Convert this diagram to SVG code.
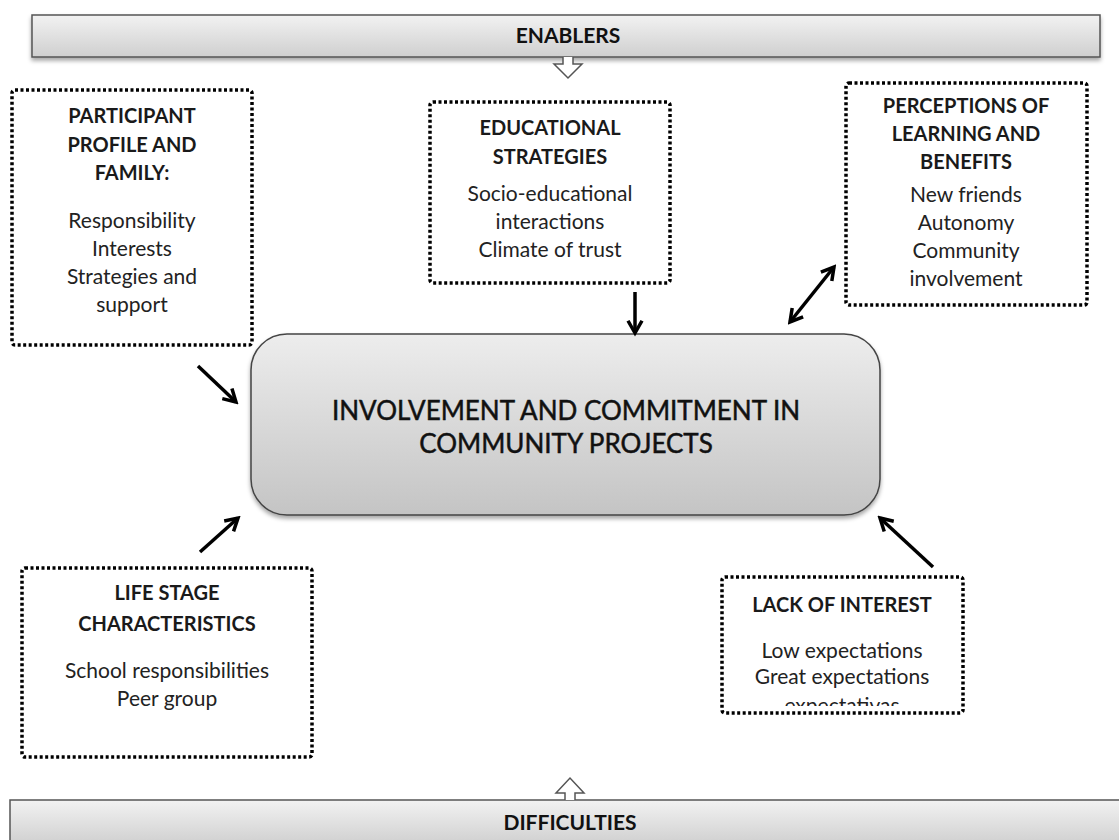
<svg xmlns="http://www.w3.org/2000/svg" width="1119" height="840" viewBox="0 0 1119 840">
<defs>
<linearGradient id="gb" x1="0" y1="0" x2="0" y2="1"><stop offset="0" stop-color="#f2f2f2"/><stop offset="1" stop-color="#cfcfcf"/></linearGradient>
<linearGradient id="gc" x1="0" y1="0" x2="0" y2="1"><stop offset="0" stop-color="#ededed"/><stop offset="1" stop-color="#c4c4c4"/></linearGradient>
<filter id="sh" x="-5%" y="-5%" width="110%" height="130%"><feDropShadow dx="0" dy="3" stdDeviation="2" flood-color="#000" flood-opacity="0.35"/></filter>
<marker id="ah" viewBox="0 0 10 10" refX="8" refY="5" markerWidth="5" markerHeight="5" orient="auto-start-reverse" markerUnits="strokeWidth"><path d="M1,1 L8,5 L1,9" fill="none" stroke="#000" stroke-width="2"/></marker>
<clipPath id="clipL"><rect x="722" y="577" width="241" height="129"/></clipPath>
</defs>
<style>
.dot{fill:#fff;stroke:#000;stroke-width:3.5;stroke-dasharray:3 2.5}
.h{font-family:Lato,"Liberation Sans",sans-serif;font-weight:bold;font-size:20px;fill:#1a1a1a;text-anchor:middle}
.t{font-family:Lato,"Liberation Sans",sans-serif;font-size:21px;fill:#222;text-anchor:middle}
.b{font-family:Lato,"Liberation Sans",sans-serif;font-weight:bold;font-size:21px;fill:#111;text-anchor:middle}
.c{font-family:Lato,"Liberation Sans",sans-serif;font-size:26px;fill:#111;stroke:#111;stroke-width:0.5;text-anchor:middle}
.ar{stroke:#000;stroke-width:3.5;fill:none;marker-end:url(#ah)}
</style>
<rect width="1119" height="840" fill="#fff"/>

<g id="enablers">
<rect x="32" y="15" width="1068" height="42" fill="url(#gb)" stroke="#555" stroke-width="1.5" filter="url(#sh)"/>
<text class="b" x="568" y="43">ENABLERS</text>
<path d="M563,57 L563,64 L554,64 L568,78 L582,64 L573,64 L573,57" fill="#fff" stroke="#555" stroke-width="1.5"/>
</g>

<g id="participant">
<rect class="dot" x="12" y="90" width="240" height="255" rx="3"/>
<text class="h" x="132" y="123">PARTICIPANT</text>
<text class="h" x="132" y="152">PROFILE AND</text>
<text class="h" x="132" y="180">FAMILY:</text>
<text class="t" x="132" y="228">Responsibility</text>
<text class="t" x="132" y="256">Interests</text>
<text class="t" x="132" y="284">Strategies and</text>
<text class="t" x="132" y="312">support</text>
</g>

<g id="educational">
<rect class="dot" x="430" y="102" width="240" height="181" rx="3"/>
<text class="h" x="550" y="135">EDUCATIONAL</text>
<text class="h" x="550" y="164">STRATEGIES</text>
<text class="t" x="550" y="201">Socio-educational</text>
<text class="t" x="550" y="229">interactions</text>
<text class="t" x="550" y="257">Climate of trust</text>
</g>

<g id="perceptions">
<rect class="dot" x="846" y="83" width="241" height="222" rx="3"/>
<text class="h" x="966" y="113">PERCEPTIONS OF</text>
<text class="h" x="966" y="141">LEARNING AND</text>
<text class="h" x="966" y="169">BENEFITS</text>
<text class="t" x="966" y="202">New friends</text>
<text class="t" x="966" y="230">Autonomy</text>
<text class="t" x="966" y="258">Community</text>
<text class="t" x="966" y="286">involvement</text>
</g>

<g id="center">
<rect x="251" y="334" width="629" height="181" rx="36" fill="url(#gc)" stroke="#444" stroke-width="1.5" filter="url(#sh)"/>
<text class="c" x="566" y="420">INVOLVEMENT AND COMMITMENT IN</text>
<text class="c" x="566" y="453">COMMUNITY PROJECTS</text>
</g>

<g id="lifestage">
<rect class="dot" x="22" y="568" width="290" height="189" rx="3"/>
<text class="h" x="167" y="600">LIFE STAGE</text>
<text class="h" x="167" y="631">CHARACTERISTICS</text>
<text class="t" x="167" y="678">School responsibilities</text>
<text class="t" x="167" y="706">Peer group</text>
</g>

<g id="lackofinterest">
<rect class="dot" x="722" y="577" width="241" height="136" rx="3"/>
<text class="h" x="842" y="612">LACK OF INTEREST</text>
<text class="t" x="842" y="658">Low expectations</text>
<text class="t" x="842" y="684">Great expectations</text>
<text class="t" x="842" y="713" clip-path="url(#clipL)">expectativas</text>
</g>

<g id="difficulties">
<rect x="10" y="800" width="1115" height="45" fill="url(#gb)" stroke="#555" stroke-width="1.5"/>
<text class="b" x="570" y="830">DIFFICULTIES</text>
<path d="M565,800 L565,793 L556,793 L570,778 L584,793 L575,793 L575,800" fill="#fff" stroke="#555" stroke-width="1.5"/>
</g>

<g id="connectors">
<line class="ar" x1="198" y1="366" x2="236" y2="402"/>
<line class="ar" x1="635" y1="292" x2="635" y2="333"/>
<line class="ar" x1="790" y1="322" x2="834" y2="267" marker-start="url(#ah)"/>
<line class="ar" x1="200" y1="552" x2="238" y2="518"/>
<line class="ar" x1="933" y1="567" x2="880" y2="518"/>
</g>
</svg>
